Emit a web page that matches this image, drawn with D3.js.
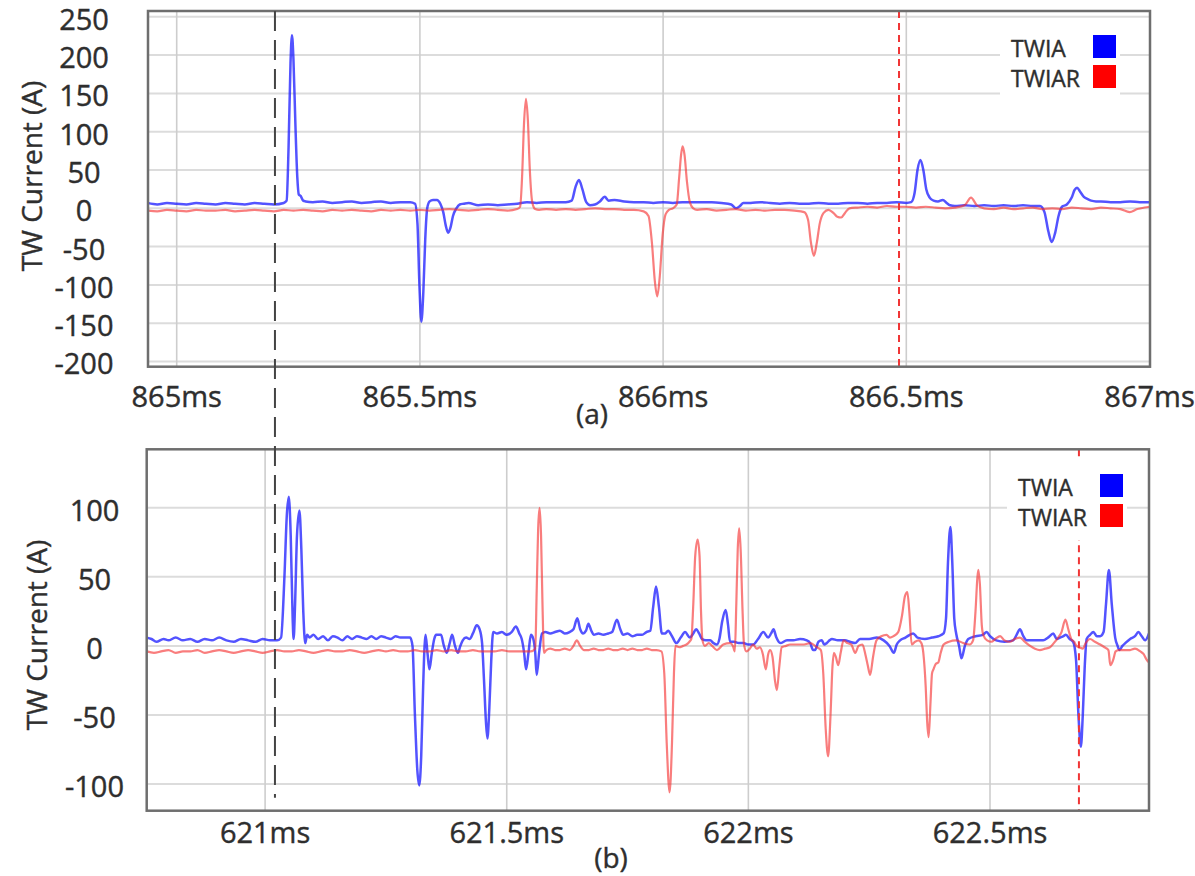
<!DOCTYPE html>
<meta charset="utf-8">
<head>
  <title>TW current</title>
  <script src="https://d3js.org/d3.v7.min.js"></script>
  <style>
    body { margin: 0; background: #fff; }
    text { font-family: "Open Sans", sans-serif; fill: #2e2e2e; stroke: #2e2e2e; stroke-width: 0.4px; }
  </style>
</head>
<body>
<svg id="chart" width="1195" height="876"></svg>
<script>
// ---- data: [time in ms, current in A] ----
var aTWIA = [[864.94,7],[864.96,5],[864.98,7],[865.00,6],[865.02,5],[865.04,7],[865.06,6],[865.08,5],[865.10,7],[865.12,6],[865.14,5],[865.16,7],[865.18,6],[865.20,5],[865.22,7],
  [865.226,10],[865.230,80],[865.234,190],[865.237,226],[865.240,195],[865.244,110],[865.248,40],[865.251,18],[865.255,16],[865.260,10],[865.265,9],
  [865.28,8],[865.30,9],[865.32,7],[865.34,8],[865.36,9],[865.38,7],[865.40,8],[865.42,9],[865.44,7],[865.46,8],[865.48,8],
  [865.490,6],[865.495,-20],[865.499,-100],[865.503,-148],[865.507,-110],[865.511,-40],[865.515,0],[865.520,9],[865.527,11],[865.535,11],[865.542,6],[865.548,-5],[865.553,-22],[865.558,-32],[865.563,-25],[865.568,-10],[865.575,0],[865.582,5],
  [865.59,6],[865.60,7],[865.62,4],[865.64,5],[865.66,4],[865.68,5],[865.70,6],[865.72,8],[865.74,7],[865.76,8],[865.78,8],[865.80,8],
  [865.812,10],[865.820,28],[865.827,37],[865.834,25],[865.842,8],[865.85,4],[865.86,5],[865.87,9],[865.880,15],[865.888,10],[865.90,11],[865.92,9],[865.94,8],[865.96,8],[865.98,7],[866.00,8],[866.02,7],[866.04,8],[866.06,8],[866.08,8],[866.10,8],[866.12,7],[866.14,5],[866.150,0],[866.158,3],[866.165,7],
  [866.18,7],[866.20,8],[866.22,7],[866.24,6],[866.26,7],[866.28,6],[866.30,6],[866.32,7],[866.34,6],[866.36,6],[866.38,7],[866.40,7],[866.42,6],[866.44,7],[866.46,7],[866.48,8],[866.50,7],
  [866.510,8],[866.517,20],[866.523,50],[866.529,63],[866.535,50],[866.541,25],[866.548,14],[866.556,10],[866.565,9],[866.575,11],[866.583,7],
  [866.59,4],[866.60,3],[866.62,4],[866.64,3],[866.66,4],[866.68,3],[866.70,4],[866.72,3],[866.74,4],[866.76,3],[866.775,3],
  [866.784,-5],[866.792,-30],[866.799,-44],[866.806,-32],[866.813,-10],[866.820,2],[866.830,5],[866.840,14],[866.846,24],[866.851,27],[866.857,22],[866.865,15],[866.873,12],[866.88,10],
  [866.89,9],[866.90,9],[866.92,8],[866.94,8],[866.96,9],[866.98,8],[867.00,8]];

var aTWIAR = [[864.94,-3],[864.96,-4],[864.98,-2],[865.00,-3],[865.02,-4],[865.04,-2],[865.06,-3],[865.08,-3],[865.10,-2],[865.12,-4],[865.14,-3],[865.16,-2],[865.18,-3],[865.20,-4],[865.22,-2],[865.24,-3],[865.26,-2],[865.28,-3],[865.30,-4],[865.32,-2],[865.34,-3],[865.36,-2],[865.38,-3],[865.40,-4],[865.42,-2],[865.44,-3],[865.46,-2],[865.48,-3],[865.50,-2],[865.52,-3],[865.54,-2],[865.56,-1],[865.58,-2],[865.60,-3],[865.62,-2],[865.64,-1],[865.66,-2],[865.68,-3],[865.70,-1],
  [865.706,2],[865.710,40],[865.714,110],[865.718,143],[865.722,115],[865.726,50],[865.731,8],[865.737,-1],[865.745,-2],
  [865.76,-1],[865.78,-2],[865.80,-1],[865.82,-2],[865.84,-1],[865.86,0],[865.88,-1],[865.90,-1],[865.92,-2],[865.94,-2],[865.96,-4],
  [865.970,-10],[865.977,-45],[865.983,-95],[865.988,-115],[865.993,-90],[865.999,-35],[866.005,-8],[866.012,-2],[866.020,0],
  [866.028,5],[866.033,40],[866.037,70],[866.040,81],[866.044,70],[866.049,35],[866.055,8],[866.062,0],
  [866.07,-2],[866.09,-1],[866.11,-3],[866.13,-2],[866.15,-1],[866.17,-3],[866.19,-2],[866.21,-3],[866.23,-2],[866.25,-2],[866.27,-3],
  [866.290,-5],[866.298,-15],[866.304,-45],[866.310,-62],[866.316,-45],[866.322,-20],[866.330,-6],[866.340,-2],[866.350,-6],[866.358,-11],[866.366,-12],[866.374,-6],[866.383,0],
  [866.40,1],[866.42,2],[866.44,1],[866.46,3],[866.48,2],[866.50,2],[866.52,1],[866.54,2],[866.56,1],[866.58,0],[866.60,1],[866.62,4],[866.633,14],[866.645,4],[866.66,0],
  [866.68,-1],[866.70,1],[866.72,-1],[866.74,0],[866.76,1],[866.78,-1],[866.80,0],[866.82,-1],[866.84,1],[866.86,0],[866.88,-1],[866.90,1],[866.92,0],[866.94,-1],[866.959,-5],[866.975,-1],[866.99,1],[867.00,2]];

var bTWIA = [[620.755,6],[620.765,5],[620.775,3],[620.79,5],[620.80,4],[620.815,6],[620.83,4],[620.845,5],[620.86,3],[620.875,5],[620.89,4],[620.905,6],[620.92,4],[620.935,3],[620.95,5],[620.965,4],[620.98,3],[620.995,5],[621.01,4],[621.025,4],[621.033,6],
  [621.040,50],[621.045,95],[621.049,108],[621.053,80],[621.057,20],[621.059,5],[621.062,30],[621.066,80],[621.071,98],[621.075,70],[621.079,25],[621.083,2],[621.087,8],[621.092,6],
  [621.10,8],[621.11,5],[621.12,7],[621.13,4],[621.14,7],[621.15,6],[621.16,4],[621.17,7],[621.18,5],[621.19,7],[621.20,6],[621.21,5],[621.22,7],[621.23,5],[621.24,7],[621.25,6],[621.26,5],[621.27,7],[621.28,6],[621.29,6],[621.300,6],
  [621.305,0],[621.310,-50],[621.315,-90],[621.319,-101],[621.323,-80],[621.327,-30],[621.330,0],[621.332,8],[621.336,-5],[621.340,-17],[621.345,-5],[621.350,5],[621.354,8],[621.364,8],[621.370,0],[621.376,-5],[621.382,2],[621.387,8],[621.393,0],[621.399,-5],[621.404,0],[621.409,4],[621.416,6],[621.423,5],[621.430,9],[621.438,15],[621.444,12],[621.449,2],
  [621.453,-25],[621.457,-55],[621.460,-67],[621.464,-45],[621.468,-10],[621.472,10],[621.480,9],[621.490,10],[621.500,8],[621.510,10],[621.519,14],[621.526,9],[621.531,5],[621.536,-5],[621.540,-17],[621.545,-5],[621.550,8],[621.555,5],[621.559,-5],[621.562,-21],[621.567,-5],[621.573,9],
  [621.58,10],[621.59,9],[621.60,10],[621.61,11],[621.62,9],[621.63,10],[621.638,12],[621.646,20],[621.652,12],[621.658,9],[621.664,11],[621.669,16],[621.675,11],[621.680,8],[621.69,9],[621.70,8],[621.71,9],[621.718,10],[621.728,19],[621.735,12],[621.741,8],[621.75,9],[621.76,7],[621.77,8],[621.78,8],
  [621.789,10],[621.797,11],[621.803,28],[621.809,43],[621.815,28],[621.821,9],[621.828,9],[621.834,11],[621.842,7],[621.851,2],[621.860,6],[621.869,10],[621.879,6],[621.886,9],[621.892,12],[621.898,9],[621.904,5],[621.912,4],[621.921,4],[621.928,2],[621.935,1],
  [621.940,5],[621.946,18],[621.953,26],[621.958,15],[621.962,3],[621.970,3],[621.980,2],[621.990,2],[622.000,1],[622.010,1],[622.020,5],[622.031,10],[622.041,6],[622.047,9],[622.052,12],[622.058,6],[622.066,2],[622.080,4],[622.093,4],[622.107,5],[622.121,4],[622.128,2],[622.134,-3],[622.138,-3],
  [622.145,3],[622.152,4],[622.157,1],[622.162,2],[622.168,4],[622.173,5],[622.185,4],[622.200,4],[622.210,3],[622.221,2],[622.231,5],[622.25,5],[622.266,6],[622.280,4],[622.292,0],[622.301,-5],[622.307,1],[622.314,4],[622.325,6],[622.341,9],[622.35,6],[622.365,5],[622.38,6],[622.393,7],[622.404,9],
  [622.409,20],[622.413,60],[622.418,86],[622.422,60],[622.426,20],[622.430,9],[622.436,0],[622.441,-9],[622.448,0],[622.455,5],[622.47,7],[622.485,8],[622.493,10],[622.50,7],[622.513,4],[622.53,3],[622.548,4],[622.555,8],[622.562,12],[622.569,7],[622.576,4],[622.59,4],[622.61,4],[622.620,6],[622.631,9],[622.638,5],[622.645,6],[622.652,7],[622.657,8],[622.665,5],[622.672,3],
  [622.678,-10],[622.683,-50],[622.688,-73],[622.692,-50],[622.696,-15],[622.700,5],[622.707,8],[622.714,10],[622.721,7],[622.728,7],[622.735,10],[622.740,30],[622.746,55],[622.752,30],[622.759,6],[622.764,0],[622.768,-3],[622.774,0],[622.780,2],[622.790,5],[622.800,7],[622.807,10],[622.814,7],[622.821,4],[622.829,9]];

var bTWIAR = [[620.755,-4],[620.77,-5],[620.785,-4],[620.80,-3],[620.815,-5],[620.83,-4],[620.845,-4],[620.86,-3],[620.875,-5],[620.89,-4],[620.905,-3],[620.92,-4],[620.935,-5],[620.95,-4],[620.965,-3],[620.98,-4],[620.995,-5],[621.01,-4],[621.025,-3],[621.04,-4],[621.055,-4],[621.07,-3],[621.085,-4],[621.10,-5],[621.115,-4],[621.13,-3],[621.145,-4],[621.16,-4],[621.175,-3],[621.19,-4],[621.205,-5],[621.22,-4],[621.235,-3],[621.25,-4],[621.265,-3],[621.28,-4],[621.295,-4],[621.31,-3],[621.325,-4],[621.34,-4],[621.355,-3],[621.37,-4],[621.385,-3],[621.40,-4],[621.415,-4],[621.43,-3],[621.445,-4],[621.46,-4],[621.475,-4],[621.49,-3],[621.505,-4],[621.52,-4],[621.535,-4],[621.550,-4],
  [621.559,-2],[621.562,40],[621.565,85],[621.568,100],[621.571,80],[621.574,30],[621.577,-5],[621.582,-3],[621.59,-2],[621.60,-3],[621.61,-3],[621.62,-2],[621.63,-3],[621.638,0],[621.645,4],[621.652,0],[621.660,-3],[621.67,-3],[621.68,-2],[621.69,-3],[621.70,-3],[621.71,-2],[621.72,-3],[621.73,-3],[621.74,-2],[621.75,-3],[621.76,-2],[621.77,-3],[621.78,-3],[621.79,-2],[621.80,-3],[621.81,-3],[621.820,-4],
  [621.826,-20],[621.831,-70],[621.837,-106],[621.842,-70],[621.846,-20],[621.849,0],[621.857,-1],[621.865,0],[621.872,1],[621.878,3],[621.882,5],[621.886,30],[621.890,65],[621.895,77],[621.899,65],[621.902,25],[621.905,4],[621.910,0],[621.918,2],[621.925,0],[621.935,-3],[621.948,1],[621.962,2],[621.968,0],[621.972,-4],
  [621.975,30],[621.978,70],[621.981,85],[621.984,70],[621.988,25],[621.991,1],[621.996,-4],[622.003,-2],[622.010,1],[622.017,-2],[622.024,-1],[622.030,-6],[622.036,-17],[622.041,-6],[622.045,-3],[622.050,-8],[622.055,-25],[622.059,-32],[622.064,-15],[622.069,-1],[622.078,0],[622.086,1],[622.10,1],[622.115,1],[622.128,2],[622.142,-1],
  [622.150,-3],[622.155,-20],[622.160,-60],[622.165,-80],[622.170,-50],[622.174,-15],[622.177,-5],[622.181,-8],[622.186,-14],[622.191,-5],[622.197,4],[622.205,2],[622.213,1],[622.221,-5],[622.228,0],[622.236,1],[622.242,-6],[622.247,-14],[622.252,-21],[622.258,-8],[622.265,4],[622.275,7],[622.286,8],[622.293,6],[622.300,7],
  [622.310,10],[622.318,22],[622.324,36],[622.329,39],[622.333,25],[622.338,1],[622.345,3],[622.352,4],[622.358,2],[622.362,-5],[622.367,-30],[622.370,-55],[622.373,-66],[622.377,-40],[622.380,-20],[622.383,-17],[622.388,-13],[622.393,-12],[622.398,-5],[622.404,1],[622.415,3],[622.430,4],[622.445,2],[622.458,1],
  [622.465,4],[622.470,25],[622.474,50],[622.476,55],[622.479,45],[622.483,15],[622.486,8],[622.494,4],[622.503,3],[622.511,5],[622.521,7],[622.530,4],[622.541,3],[622.551,5],[622.562,6],[622.572,3],[622.583,0],[622.593,-2],[622.603,-3],[622.614,-2],[622.624,-1],[622.632,2],[622.641,6],[622.648,10],[622.656,19],[622.662,12],[622.668,5],[622.674,3],[622.679,0],[622.685,-1],[622.692,-2],[622.698,2],[622.707,5],[622.717,3],[622.728,1],[622.737,-1],[622.745,-3],[622.749,-14],[622.755,-10],[622.760,-4],[622.766,-3],[622.775,-3],[622.790,-3],[622.800,-2],[622.811,-4],[622.818,-6],[622.824,-10],[622.829,-12]];

var aTicksX = [865, 865.5, 866, 866.5, 867];
var aTicksY = [250, 200, 150, 100, 50, 0, -50, -100, -150, -200];
var bTicksX = [621, 621.5, 622, 622.5];
var bTicksY = [100, 50, 0, -50, -100];
var seriesNames = ["TWIA", "TWIAR"];
var seriesColors = ["#0000ff", "#ff0000"];
var aMarkers = {start: 865.202, end: 866.485};
var bMarkers = {start: 621.021, end: 622.684};

var svg = d3.select("#chart");

function drawPanel(p) {
  var x = d3.scaleLinear().domain(p.xDomain).range([p.left, p.right]);
  var y = d3.scaleLinear().domain(p.yDomain).range([p.bottom, p.top]);
  var g = svg.append("g");

  g.append("clipPath").attr("id", p.id + "clip")
    .append("rect").attr("x", p.left).attr("y", p.top)
    .attr("width", p.right - p.left).attr("height", p.bottom - p.top);

  // grid
  g.selectAll(".hgrid").data(p.yTicks).enter().append("line")
    .attr("x1", p.left).attr("x2", p.right)
    .attr("y1", function(d) { return y(d); }).attr("y2", function(d) { return y(d); })
    .style("stroke", "#dcdcdc").style("stroke-width", 2);
  g.selectAll(".vgrid").data(p.xTicks).enter().append("line")
    .filter(function(d) { return x(d) < p.right - 3; })
    .attr("x1", function(d) { return x(d); }).attr("x2", function(d) { return x(d); })
    .attr("y1", p.top).attr("y2", p.bottom)
    .style("stroke", "#cdcdcd").style("stroke-width", 1.6);

  // traces
  var line = d3.line()
    .x(function(d) { return x(d[0]); })
    .y(function(d) { return y(d[1]); })
    .curve(d3.curveMonotoneX);
  var traces = g.append("g").attr("clip-path", "url(#" + p.id + "clip)");
  traces.append("path").datum(p.blue).attr("d", line)
    .style("fill", "none").style("stroke", "rgba(25,25,255,0.75)").style("stroke-width", 2.5);
  traces.append("path").datum(p.red).attr("d", line)
    .style("fill", "none").style("stroke", "rgba(245,45,45,0.62)").style("stroke-width", 2.2);

  // end marker
  g.append("line")
    .attr("x1", x(p.markers.end)).attr("x2", x(p.markers.end))
    .attr("y1", p.top).attr("y2", p.bottom)
    .style("stroke", "#f03535").style("stroke-width", 2).style("stroke-dasharray", "7,5");

  // legend (rows are relative to the legend box)
  var lg = g.append("g").attr("transform", "translate(" + p.legend[0] + "," + p.legend[1] + ")");
  lg.append("rect").attr("x", 0).attr("y", 0).attr("width", 120).attr("height", p.legendH)
    .style("fill", "#fff");
  seriesNames.forEach(function(name, i) {
    lg.append("text").attr("x", 11).attr("y", p.legendRow[i])
      .style("font-size", "23px").text(name);
    lg.append("rect").attr("x", 93).attr("y", p.legendRow[i] - 22)
      .attr("width", 23).attr("height", 23).style("fill", seriesColors[i]);
  });

  // frame
  g.append("rect").attr("x", p.left).attr("y", p.top)
    .attr("width", p.right - p.left).attr("height", p.bottom - p.top)
    .style("fill", "none").style("stroke", "#6e6e6e").style("stroke-width", 2.5);

  // tick labels
  g.selectAll(".ytl").data(p.yTicks).enter().append("text")
    .attr("x", p.yLabelX).attr("y", function(d) { return y(d) + 13; })
    .attr("text-anchor", "middle").style("font-size", "29px")
    .text(function(d) { return d; });
  g.selectAll(".xtl").data(p.xTicks).enter().append("text")
    .attr("x", function(d) { return x(d); }).attr("y", p.xLabelY)
    .attr("text-anchor", "middle").style("font-size", "29px")
    .text(function(d) { return d + "ms"; });

  g.append("text")
    .attr("transform", "translate(" + p.titleX + "," + p.titleY + ") rotate(-90)")
    .attr("text-anchor", "middle").style("font-size", "28px")
    .text("TW Current (A)");
  g.append("text").attr("x", p.caption[0]).attr("y", p.caption[1])
    .attr("text-anchor", "middle").style("font-size", "28px").text(p.captionText);

  return {x: x, y: y};
}

var pa = drawPanel({
  id: "a", left: 148, right: 1150, top: 11, bottom: 366.7,
  xDomain: [864.941, 867.001], yDomain: [-206.8, 257.6],
  xTicks: aTicksX, yTicks: aTicksY, blue: aTWIA, red: aTWIAR, markers: aMarkers,
  legend: [1000, 25], legendH: 75, legendRow: [32, 62],
  yLabelX: 84, xLabelY: 407, titleX: 42, titleY: 176,
  caption: [592, 424], captionText: "(a)"
});

var pb = drawPanel({
  id: "b", left: 146.7, right: 1149, top: 449.3, bottom: 810.7,
  xDomain: [620.755, 622.829], yDomain: [-119.3, 142.3],
  xTicks: bTicksX, yTicks: bTicksY, blue: bTWIA, red: bTWIAR, markers: bMarkers,
  legend: [1007, 457], legendH: 83, legendRow: [39, 69],
  yLabelX: 94.5, xLabelY: 843, titleX: 47, titleY: 635,
  caption: [611, 868], captionText: "(b)"
});

// common start marker across both panels
svg.append("line")
  .attr("x1", pa.x(aMarkers.start)).attr("x2", pa.x(aMarkers.start))
  .attr("y1", pa.y(257.6)).attr("y2", pb.y(-110))
  .style("stroke", "#444").style("stroke-width", 2).style("stroke-dasharray", "20,9");
</script>
</body>
</html>
